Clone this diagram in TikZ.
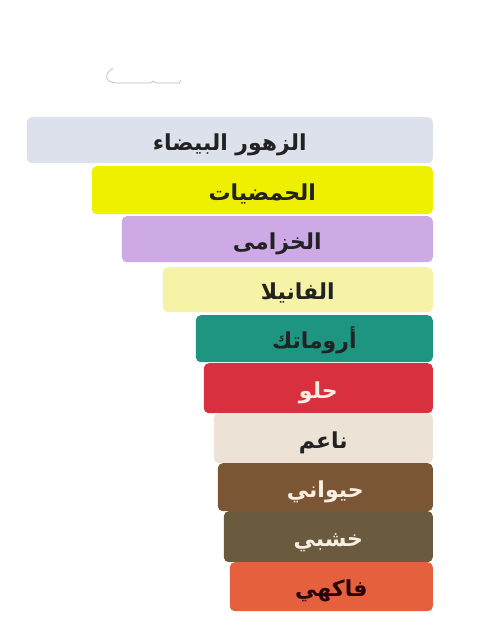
\documentclass[tikz,border=0pt]{standalone}
\usepackage{fontspec}
\usetikzlibrary{positioning}
\newfontfamily\arabicfont[Script=Arabic]{DejaVu Sans}
\TeXXeTstate=1
\definecolor{whiteflowers}{HTML}{DDE1EC}
\definecolor{citrus}{HTML}{EEF000}
\definecolor{lavender}{HTML}{CDAAE6}
\definecolor{vanilla}{HTML}{F6F3A6}
\definecolor{aromatic}{HTML}{1E9580}
\definecolor{sweet}{HTML}{D9303F}
\definecolor{soft}{HTML}{ECE2D6}
\definecolor{animal}{HTML}{7B5634}
\definecolor{woody}{HTML}{6A5A3E}
\definecolor{fruity}{HTML}{E5603C}
\definecolor{darktext}{HTML}{222222}
\definecolor{lighttext}{HTML}{F7F0E2}
\tikzset{
  bar/.style={
    rectangle,
    rounded corners=5pt,
    anchor=north east,
    inner sep=0pt,
    align=center,
    text height=20pt,
    text depth=0pt,
    text=darktext,
    font=\arabicfont\bfseries\fontsize{22}{26}\selectfont,
  },
  lightbar/.style={
    bar,
    text=lighttext
  },
  mark stroke/.style={
    draw=black!25,
    line width=0.8pt
  }
}

\begin{document}
\begin{tikzpicture}[x=1pt,y=1pt]

\useasboundingbox (0,0) rectangle (500,-633);

% --- faint stroke on top ---
\draw[mark stroke] (113,-68) .. controls (104,-74) and (104,-82) .. (116,-83)
  -- (150,-83) -- (153,-81) -- (156,-83) -- (179,-83) -- (181,-80);

% --- bars, right aligned ---
\node[bar, fill=whiteflowers, minimum width=406pt, minimum height=46pt] (white) at (433,-117)
  {\beginR الزهور البيضاء\endR};
\node[bar, fill=citrus, minimum width=341pt, minimum height=48pt] (citrus) at (433,-166)
  {\beginR الحمضيات\endR};
\node[bar, fill=lavender, minimum width=311pt, minimum height=46pt] (lavender) at (433,-216)
  {\beginR الخزامى\endR};
\node[bar, fill=vanilla, minimum width=270pt, minimum height=45pt] (vanilla) at (433,-267)
  {\beginR الفانيلا\endR};
\node[bar, fill=aromatic, minimum width=237pt, minimum height=47pt] (aromatic) at (433,-315)
  {\beginR أروماتك\endR};
\node[lightbar, fill=sweet, minimum width=229pt, minimum height=50pt] (sweet) at (433,-363)
  {\beginR حلو\endR};
\node[bar, fill=soft, minimum width=219pt, minimum height=50pt] (soft) at (433,-413)
  {\beginR ناعم\endR};
\node[lightbar, fill=animal, minimum width=215pt, minimum height=48pt] (animal) at (433,-463)
  {\beginR حيواني\endR};
\node[lightbar, fill=woody, minimum width=209pt, minimum height=51pt] (woody) at (433,-511)
  {\beginR خشبي\endR};
\node[bar, fill=fruity, minimum width=203pt, minimum height=49pt, text=black!80!purple] (fruity) at (433,-562)
  {\beginR فاكهي\endR};

\end{tikzpicture}
\end{document}
